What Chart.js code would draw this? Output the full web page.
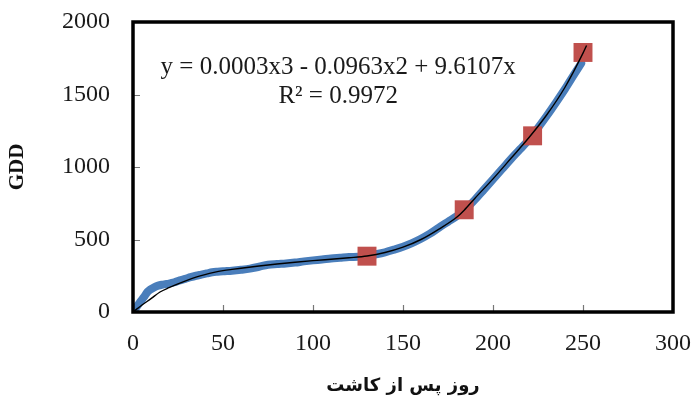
<!DOCTYPE html>
<html>
<head>
<meta charset="utf-8">
<script src="https://cdn.jsdelivr.net/npm/chart.js@4/dist/chart.umd.min.js"></script>
<style>
  html, body { margin: 0; padding: 0; background: #ffffff; }
  #chart { display: block; }
</style>
</head>
<body>
<canvas id="chart" width="693" height="398"></canvas>
<script>
// Daily accumulated growing degree days (blue band)
const dayObserved = [0, 2, 4, 6, 8, 10, 12, 14, 16, 18, 20, 23, 26, 29, 32, 35, 38, 41, 44, 47, 50, 55, 60, 65, 70, 75, 80, 85, 90, 95, 100, 105, 110, 115, 120, 125, 130, 135, 140, 145, 150, 155, 160, 165, 170, 175, 180, 185, 190, 195, 200, 205, 210, 215, 220, 225, 230, 235, 240, 245, 249];
const gddObserved = [0, 35, 70, 102, 138, 158, 172, 182, 188, 192, 196, 205, 218, 228, 240, 250, 258, 266, 274, 278, 281, 285, 291, 299, 312, 326, 331, 335, 341, 349, 356, 362, 369, 374, 379, 381, 386, 398, 412, 430, 450, 475, 505, 540, 582, 622, 662, 712, 775, 845, 915, 985, 1055, 1122, 1190, 1270, 1355, 1445, 1538, 1637, 1715];

// Third-order polynomial trend line
const dayTrend = [0, 5, 10, 15, 20, 25, 30, 35, 40, 45, 50, 55, 60, 70, 80, 90, 100, 110, 120, 130, 140, 150, 160, 170, 180, 184, 190, 200, 210, 220, 230, 240, 250, 252];
const gddTrend = [0, 48, 92, 138, 168, 194, 218, 240, 258, 273, 285, 294, 302, 317, 331, 343, 354, 364, 374, 386, 410, 447, 500, 572, 655, 702, 785, 918, 1060, 1203, 1362, 1550, 1785, 1838];

// Phenological stages (red squares)
const dayStage = [130, 184, 222, 250];
const gddStage = [385, 705, 1215, 1790];

// Axis titles and trend equation
const xTitle = 'روز پس از کاشت';
const yTitle = 'GDD';
const equationLines = ['y = 0.0003x3 - 0.0963x2 + 9.6107x', 'R² = 0.9972'];

const toPoints = (xs, ys) => xs.map((x, i) => ({ x: x, y: ys[i] }));

const SERIF = '"Liberation Serif", "Times New Roman", serif';

// Frame around the plot, inward tick marks and the equation label
const plotDecor = {
  id: 'plotDecor',
  afterDraw(chart) {
    const { ctx, chartArea: a, scales: { x, y } } = chart;
    ctx.save();
    // inward tick marks
    ctx.strokeStyle = '#777777';
    ctx.lineWidth = 1.2;
    ctx.beginPath();
    x.ticks.forEach(t => {
      if (t.value <= x.min || t.value >= x.max) return;
      const px = Math.round(x.getPixelForValue(t.value)) + 0.5;
      ctx.moveTo(px, a.bottom);
      ctx.lineTo(px, a.bottom - 7);
    });
    y.ticks.forEach(t => {
      if (t.value <= y.min || t.value >= y.max) return;
      const py = Math.round(y.getPixelForValue(t.value)) + 0.5;
      ctx.moveTo(a.left, py);
      ctx.lineTo(a.left + 7, py);
    });
    ctx.stroke();
    // frame
    ctx.strokeStyle = '#000000';
    ctx.lineWidth = 3.5;
    ctx.strokeRect(a.left, a.top, a.right - a.left, a.bottom - a.top);
    // equation
    ctx.fillStyle = '#1a1a1a';
    ctx.font = '25px ' + SERIF;
    ctx.textAlign = 'center';
    ctx.textBaseline = 'middle';
    const cx = x.getPixelForValue(114);
    ctx.fillText(equationLines[0], cx, y.getPixelForValue(1690));
    ctx.fillText(equationLines[1], cx, y.getPixelForValue(1490));
    ctx.restore();
  }
};

const plainNumber = v => String(v);

new Chart(document.getElementById('chart'), {
  type: 'line',
  data: {
    datasets: [
      {
        label: 'Trend',
        data: toPoints(dayTrend, gddTrend),
        borderColor: '#000000',
        borderWidth: 1.4,
        pointRadius: 0,
        cubicInterpolationMode: 'monotone',
        order: 0
      },
      {
        label: 'Stages',
        data: toPoints(dayStage, gddStage),
        showLine: false,
        pointStyle: 'rect',
        pointRadius: 13.4,
        pointBackgroundColor: '#C0504D',
        pointBorderWidth: 0,
        order: 1
      },
      {
        label: 'GDD',
        data: toPoints(dayObserved, gddObserved),
        borderColor: '#4A7EBB',
        borderWidth: 8,
        borderCapStyle: 'round',
        borderJoinStyle: 'round',
        pointRadius: 0,
        cubicInterpolationMode: 'monotone',
        order: 2
      }
    ]
  },
  options: {
    responsive: false,
    animation: false,
    devicePixelRatio: 1,
    layout: { padding: { top: 22, right: 20, left: 0, bottom: 0 } },
    plugins: { legend: { display: false }, tooltip: { enabled: false } },
    scales: {
      x: {
        type: 'linear',
        min: 0,
        max: 300,
        grid: { display: false, drawTicks: false },
        border: { display: false },
        ticks: { stepSize: 50, padding: 17, color: '#1a1a1a', font: { family: SERIF, size: 24 }, callback: plainNumber },
        title: {
          display: true,
          text: xTitle,
          color: '#111111',
          font: { family: '"DejaVu Sans", sans-serif', size: 18, weight: 'bold' },
          padding: { top: 0, bottom: 1 }
        },
        afterFit(scale) {
          scale.height = 86;
          scale.paddingLeft = 0;
          scale.paddingRight = 0;
        }
      },
      y: {
        min: 0,
        max: 2000,
        grid: { display: false, drawTicks: false },
        border: { display: false },
        ticks: { stepSize: 500, padding: 23, color: '#1a1a1a', font: { family: SERIF, size: 24 }, callback: plainNumber },
        title: {
          display: true,
          text: yTitle,
          color: '#111111',
          font: { family: SERIF, size: 21, weight: 'bold' },
          padding: { top: 5, bottom: 0 }
        },
        afterFit(scale) {
          scale.width = 133;
          scale.paddingTop = 0;
          scale.paddingBottom = 0;
        }
      }
    }
  },
  plugins: [plotDecor]
});
</script>
</body>
</html>
